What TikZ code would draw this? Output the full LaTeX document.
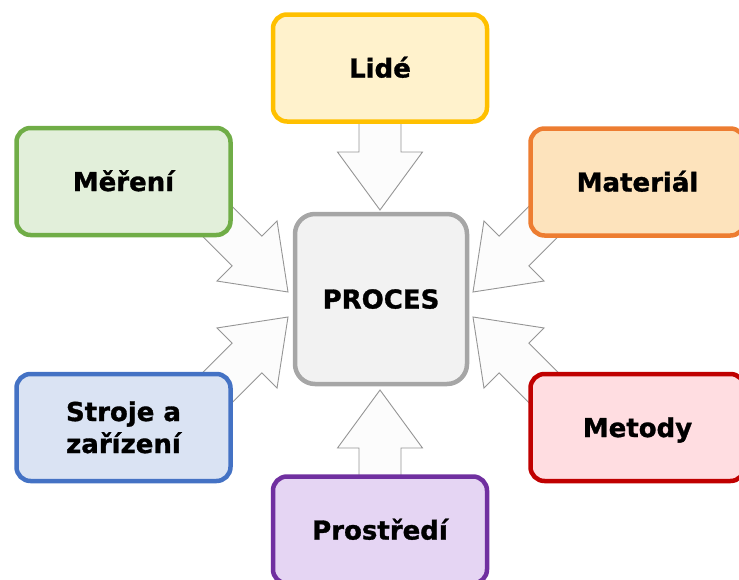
\documentclass[tikz,border=0pt]{standalone}
\usepackage{fontspec}
\setmainfont{DejaVu Sans}[BoldFeatures={FakeBold=1.2}]
\usetikzlibrary{calc}
\usetikzlibrary{backgrounds}

\definecolor{lidefill}{HTML}{FFF2CC}
\definecolor{lideline}{HTML}{FFC000}
\definecolor{merfill}{HTML}{E2EFDA}
\definecolor{merline}{HTML}{70AD47}
\definecolor{matfill}{HTML}{FDE3BC}
\definecolor{matline}{HTML}{ED7D31}
\definecolor{strfill}{HTML}{DAE3F3}
\definecolor{strline}{HTML}{4472C4}
\definecolor{metfill}{HTML}{FFDDE1}
\definecolor{metline}{HTML}{C00000}
\definecolor{profill}{HTML}{E5D5F3}
\definecolor{proline}{HTML}{7030A0}
\definecolor{procfill}{HTML}{F2F2F2}
\definecolor{procline}{HTML}{A6A6A6}
\definecolor{arrline}{HTML}{959595}
\definecolor{arrfill}{HTML}{FCFCFC}

% block arrow: #1 source box, #2 tip, #3 direction
\newcommand{\blockarrow}[3]{%
  \path let \p1=($(#1.center)-(#2)$), \n1={veclen(\x1,\y1)} in
    [shift={(#2)}, rotate=#3]
    (0pt,0pt) [arrow] -- (-58pt,42.5pt) -- (-58pt,21pt) -- (-\n1*1pt,21pt)
    -- (-\n1*1pt,-21pt) -- (-58pt,-21pt) -- (-58pt,-42.5pt) -- cycle;
}

\begin{document}
\begin{tikzpicture}[x=1pt,y=-1pt,
% Box style
    box/.style={rectangle,rounded corners=14pt,line width=4.5pt,
		minimum width=214pt,minimum height=107pt,align=center,
		font={\fontsize{26pt}{32pt}\selectfont\bfseries},
		text height=19pt,text depth=0pt},
    proc/.style={box,rounded corners=20pt,minimum width=172pt,
		minimum height=170pt,draw=procline,fill=procfill},
% Arrow style
    arrow/.style={draw=arrline,fill=arrfill,line width=0.9pt,line join=miter}
    ]
  \useasboundingbox (0,0) rectangle (739,579);

  \node (proces) [proc] at (381,299) {PROCES};

  \node (lide) [box,draw=lideline,fill=lidefill] at (380,68) {Lidé};
  \node (mereni) [box,draw=merline,fill=merfill] at (123.5,181.5) {Měření};
  \node (material) [box,draw=matline,fill=matfill] at (637.5,182) {Materiál};
  \node (stroje) [box,draw=strline,fill=strfill,text height=51pt] at (123.5,427.5) {Stroje a\\zařízení};
  \node (metody) [box,draw=metline,fill=metfill] at (637.5,427.5) {Metody};
  \node (prostredi) [box,draw=proline,fill=profill] at (380,530) {Prostředí};

  % arrow tips on the process box
  \coordinate (tipL) at (380,210);
  \coordinate (tipP) at (380,390);
  \coordinate (tipMe) at (288,292);
  \coordinate (tipMa) at (473,292);
  \coordinate (tipS) at (288,317);
  \coordinate (tipMt) at (473,317);

\begin{pgfonlayer}{background}
  \blockarrow{lide}{tipL}{-90}
  \blockarrow{prostredi}{tipP}{90}
  \blockarrow{mereni}{tipMe}{-45}
  \blockarrow{material}{tipMa}{-135}
  \blockarrow{stroje}{tipS}{45}
  \blockarrow{metody}{tipMt}{135}
\end{pgfonlayer}

\end{tikzpicture}
\end{document}
